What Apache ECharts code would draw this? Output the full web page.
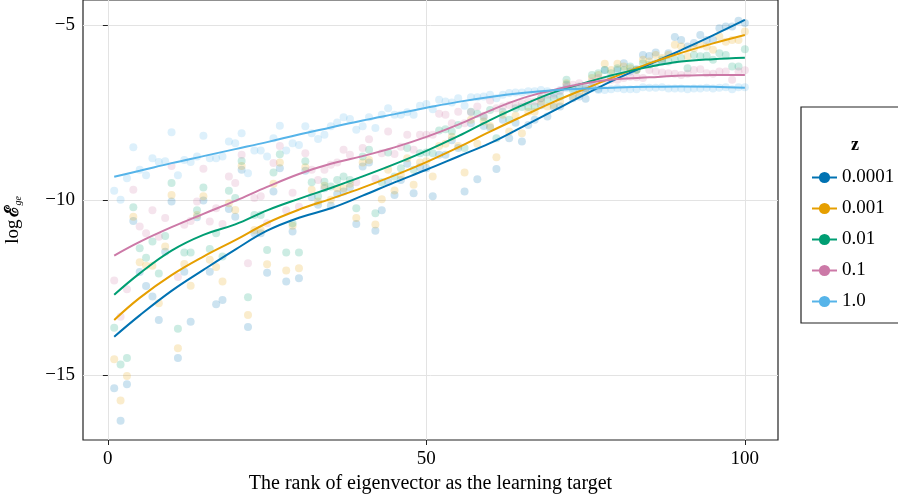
<!DOCTYPE html>
<html>
<head>
<meta charset="utf-8">
<script src="https://cdn.jsdelivr.net/npm/echarts@6/dist/echarts.min.js"></script>
<style>
  html, body { margin: 0; padding: 0; background: #fff; }
  #chart { width: 898px; height: 499px; }
</style>
</head>
<body>
<div id="chart"></div>
<script>
// ranks of the eigenvector (x)
const ranks = [1,2,3,4,5,6,7,8,9,10,11,12,13,14,15,16,17,18,19,20,
  21,22,23,24,25,26,27,28,29,30,31,32,33,34,35,36,37,38,39,40,
  41,42,43,44,45,46,47,48,49,50,51,52,53,54,55,56,57,58,59,60,
  61,62,63,64,65,66,67,68,69,70,71,72,73,74,75,76,77,78,79,80,
  81,82,83,84,85,86,87,88,89,90,91,92,93,94,95,96,97,98,99,100];

const zLabels = ['0.0001', '0.001', '0.01', '0.1', '1.0'];
const colors = ['#0072B2', '#E69F00', '#009E73', '#CC79A7', '#56B4E9'];

// scattered points, one per rank
const pts0001 = [-15.38,-16.31,-15.27,-10.6,-12.06,-12.46,-12.76,-13.43,-11.48,-10.05,
  -14.52,-12.05,-13.48,-10.5,-10.02,-12.05,-12.98,-12.86,-10.26,-10.48,
  -9.14,-13.63,-10.95,-10.95,-12.08,-9.76,-9.1,-12.33,-10.9,-12.24,
  -9.17,-9.92,-10.14,-9.67,-10.17,-9.83,-9.76,-9.64,-10.69,-9.05,
  -8.93,-10.88,-10.3,-9.48,-9.86,-9.43,-8.97,-9.81,-9.07,-9.1,
  -9.9,-8.71,-8.71,-8.3,-8.52,-9.76,-7.81,-9.41,-7.89,-7.93,
  -9.12,-7.71,-8.24,-7.8,-8.33,-7.86,-7.71,-7.3,-7.62,-7.35,
  -7.33,-6.71,-7.1,-7.05,-7.11,-6.76,-6.83,-6.29,-6.52,-6.29,
  -6.1,-6.33,-6.27,-5.86,-5.89,-5.79,-6.05,-5.81,-5.35,-5.43,
  -5.62,-5.52,-5.29,-5.43,-5.43,-5.1,-5.05,-5.05,-4.88,-4.95];
const pts001 = [-14.55,-15.73,-15.03,-10.48,-11.78,-11.88,-11.88,-12.95,-11.33,-9.86,
  -14.24,-11.83,-12.45,-10.43,-9.9,-11.71,-11.92,-12.33,-10.1,-10.29,
  -9.03,-13.29,-10.86,-10.86,-11.84,-9.54,-8.93,-12.02,-10.74,-11.95,
  -9.07,-9.71,-10.05,-9.6,-10.0,-9.67,-9.67,-9.54,-10.52,-8.93,
  -8.86,-10.7,-9.98,-9.14,-9.73,-9.3,-8.81,-9.57,-8.93,-8.9,
  -9.33,-8.46,-8.4,-8.2,-8.46,-9.22,-7.71,-8.4,-7.76,-7.89,
  -8.78,-7.57,-8.05,-7.6,-8.1,-7.48,-7.48,-7.2,-7.33,-7.3,
  -7.19,-6.67,-7.05,-6.95,-6.9,-6.52,-6.43,-6.11,-6.29,-6.11,
  -6.19,-6.24,-6.29,-6.0,-6.05,-5.86,-5.95,-5.86,-5.57,-5.62,
  -5.9,-5.67,-5.57,-5.62,-5.71,-5.33,-5.48,-5.43,-5.43,-5.19];
const pts01 = [-13.65,-14.7,-14.52,-10.21,-11.38,-11.65,-11.19,-12.1,-11.03,-9.52,
  -13.68,-11.5,-11.5,-10.3,-9.65,-11.4,-10.95,-11.62,-9.74,-9.95,
  -8.89,-12.78,-10.43,-10.43,-11.43,-9.22,-8.7,-11.5,-10.67,-11.5,
  -8.9,-9.5,-9.9,-9.48,-9.62,-9.43,-9.33,-9.43,-10.24,-8.76,
  -8.57,-10.38,-9.5,-8.65,-9.33,-9.1,-8.52,-9.14,-8.67,-8.65,
  -8.67,-8.02,-7.98,-8.05,-7.86,-8.52,-7.48,-7.54,-7.64,-7.43,
  -8.24,-7.48,-7.71,-7.38,-7.35,-7.35,-7.33,-7.1,-7.14,-7.1,
  -7.05,-6.57,-6.86,-6.76,-6.81,-6.43,-6.38,-6.29,-6.38,-6.24,
  -6.3,-6.19,-6.29,-6.1,-6.14,-6.1,-6.0,-6.05,-6.0,-5.95,
  -6.24,-5.86,-5.9,-5.88,-6.0,-5.81,-5.86,-6.19,-6.19,-5.7];
const pts1 = [-12.3,-13.34,-12.55,-9.71,-10.76,-10.95,-10.3,-11.05,-10.52,-9.03,
  -12.2,-10.71,-10.6,-10.05,-9.11,-10.62,-10.24,-10.69,-9.33,-9.52,
  -8.71,-11.81,-9.95,-9.9,-10.67,-8.95,-8.46,-10.3,-9.8,-10.2,
  -8.67,-9.14,-9.43,-9.14,-9.0,-8.93,-8.57,-8.71,-9.5,-8.52,
  -8.27,-9.4,-8.67,-8.05,-8.69,-8.48,-8.14,-8.57,-8.14,-8.14,
  -8.14,-7.54,-7.57,-7.81,-7.48,-7.81,-7.5,-7.33,-7.6,-7.16,
  -7.38,-7.33,-7.29,-7.29,-7.24,-7.19,-7.19,-7.1,-7.0,-7.0,
  -6.9,-6.76,-6.71,-6.67,-6.81,-6.62,-6.52,-6.57,-6.57,-6.57,
  -6.52,-6.48,-6.5,-6.52,-6.29,-6.33,-6.36,-6.38,-6.4,-6.43,
  -6.4,-6.29,-6.27,-6.38,-6.4,-6.33,-6.33,-6.57,-6.33,-6.3];
const pts10 = [-9.74,-10.0,-9.38,-8.5,-9.14,-9.3,-8.81,-8.92,-8.9,-8.07,
  -9.3,-8.86,-8.92,-8.76,-8.17,-8.81,-8.81,-8.76,-8.33,-8.38,
  -8.1,-9.24,-8.59,-8.59,-8.76,-8.24,-7.88,-8.59,-8.38,-8.43,
  -7.9,-8.1,-8.26,-8.14,-7.9,-7.79,-7.64,-7.69,-8.0,-7.9,
  -7.64,-7.95,-7.57,-7.38,-7.57,-7.57,-7.5,-7.57,-7.31,-7.26,
  -7.41,-7.14,-7.19,-7.22,-7.1,-7.31,-7.07,-7.07,-7.05,-7.0,
  -7.1,-7.0,-6.95,-6.93,-6.93,-6.9,-6.9,-6.86,-6.9,-6.95,
  -6.86,-6.81,-6.81,-6.81,-6.86,-6.81,-6.86,-6.86,-6.84,-6.81,
  -6.84,-6.84,-6.84,-6.78,-6.8,-6.8,-6.78,-6.82,-6.82,-6.82,
  -6.84,-6.82,-6.82,-6.8,-6.82,-6.8,-6.78,-6.84,-6.78,-6.78];

// smooth fitted curves, sampled every 5 ranks
const fitRanks = [1,5,10,15,20,25,30,35,40,45,50,55,60,65,70,75,80,85,90,95,100];
const fit0001 = [-13.91,-13.3,-12.6,-12.0,-11.42,-10.88,-10.51,-10.24,-9.88,-9.5,-9.14,-8.76,-8.38,-7.92,-7.45,-6.98,-6.53,-6.13,-5.72,-5.3,-4.86];
const fit001 = [-13.43,-12.8,-12.15,-11.62,-11.15,-10.66,-10.28,-9.97,-9.65,-9.3,-8.92,-8.5,-8.05,-7.62,-7.2,-6.82,-6.45,-6.1,-5.8,-5.53,-5.29];
const fit01 = [-12.71,-12.1,-11.45,-11.0,-10.7,-10.3,-9.97,-9.66,-9.33,-8.98,-8.6,-8.18,-7.72,-7.3,-6.93,-6.65,-6.4,-6.2,-6.05,-5.98,-5.94];
const fit1 = [-11.59,-11.2,-10.78,-10.4,-10.03,-9.63,-9.26,-8.97,-8.75,-8.5,-8.2,-7.85,-7.45,-7.1,-6.86,-6.67,-6.55,-6.5,-6.45,-6.43,-6.43];
const fit10 = [-9.34,-9.17,-8.95,-8.75,-8.55,-8.35,-8.13,-7.93,-7.73,-7.55,-7.37,-7.2,-7.06,-6.95,-6.87,-6.82,-6.79,-6.77,-6.76,-6.77,-6.8];

const xTicks = [0, 50, 100];
const yTicks = [-15, -10, -5];

const allPts = [pts0001, pts001, pts01, pts1, pts10];
const allFits = [fit0001, fit001, fit01, fit1, fit10];

const serif = 'Liberation Serif';

let chart = echarts.init(document.getElementById('chart'));

let series = [];
// lines first so the legend takes their icon
zLabels.forEach((name, i) => {
  series.push({
    name: name,
    type: 'line',
    data: fitRanks.map((r, j) => [r, allFits[i][j]]),
    smooth: 0.4,
    symbol: 'circle',
    symbolSize: 8,
    showSymbol: false,
    z: 5,
    lineStyle: { width: 2, color: colors[i] },
    itemStyle: { color: colors[i] }
  });
});
zLabels.forEach((name, i) => {
  series.push({
    name: name,
    type: 'scatter',
    data: ranks.map((r, j) => [r, allPts[i][j]]),
    symbolSize: 8,
    z: 2,
    itemStyle: { color: colors[i], opacity: 0.2 }
  });
});

let option = {
  animation: false,
  title: {
    text: 'z',
    left: 846,
    top: 131,
    textStyle: { fontFamily: serif, fontSize: 18, fontWeight: 'bold', color: '#000' }
  },
  grid: {
    left: 83, right: 120, top: 0, bottom: 59,
    outerBoundsMode: 'none',
    containLabel: false,
    show: true, borderColor: '#222', borderWidth: 1.2
  },
  legend: {
    data: zLabels,
    orient: 'vertical',
    left: 801,
    top: 107,
    padding: [61, 60, 12, 10],
    itemGap: 12,
    itemWidth: 25,
    itemHeight: 14,
    borderColor: '#222',
    borderWidth: 1.2,
    textStyle: { fontFamily: serif, fontSize: 19, color: '#000' }
  },
  xAxis: {
    type: 'value',
    min: -3.9,
    max: 105.2,
    name: 'The rank of eigenvector as the learning target',
    nameLocation: 'middle',
    nameGap: 33,
    nameTextStyle: { fontFamily: serif, fontSize: 20, color: '#000' },
    axisLine: { show: false },
    axisTick: { show: true, customValues: xTicks, length: 5, inside: false, lineStyle: { color: '#222' } },
    axisLabel: { customValues: xTicks, fontFamily: serif, fontSize: 19, color: '#000', margin: 10 },
    splitLine: { show: true, lineStyle: { color: '#e3e3e3', width: 1 } }
  },
  yAxis: {
    type: 'value',
    min: -16.86,
    max: -4.29,
    name: '{a|log}{b|ℰ}{c|ge}',
    nameLocation: 'middle',
    nameRotate: 90,
    nameGap: 60,
    nameTextStyle: {
      rich: {
        a: { fontFamily: serif, fontSize: 19, color: '#000' },
        b: { fontFamily: 'DejaVu Serif', fontSize: 19, fontWeight: 'bold', color: '#000', padding: [0, 0, 0, 3] },
        c: { fontFamily: serif, fontSize: 10, fontStyle: 'italic', color: '#000', verticalAlign: 'bottom', padding: [8, 0, 0, 0] }
      }
    },
    axisLine: { show: false },
    axisTick: { show: true, customValues: yTicks, length: 5, inside: false, lineStyle: { color: '#222' } },
    axisLabel: {
      customValues: yTicks,
      fontFamily: serif, fontSize: 19, color: '#000', margin: 8,
      formatter: v => (v < 0 ? '\u2212' + Math.abs(v) : String(v))
    },
    splitLine: { show: true, lineStyle: { color: '#e3e3e3', width: 1 } }
  },
  series: series
};

chart.setOption(option);
</script>
</body>
</html>
